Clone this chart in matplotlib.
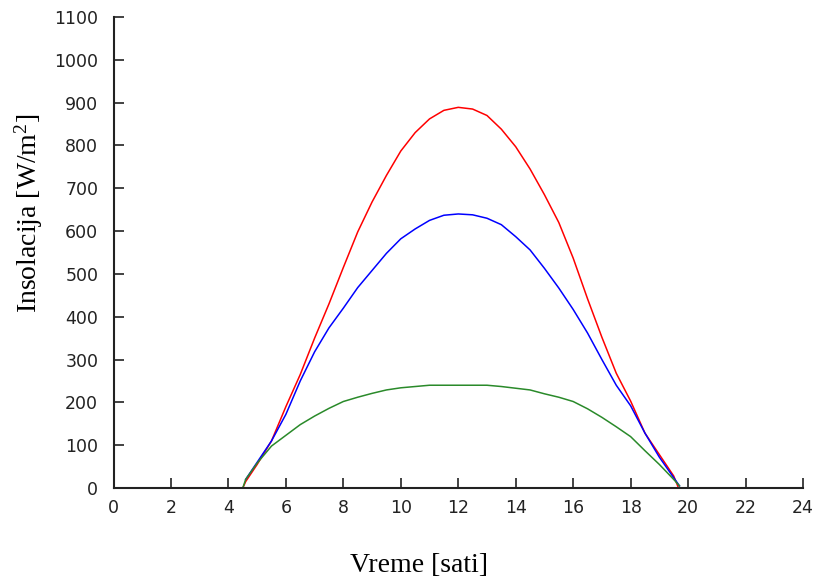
import numpy as np
import matplotlib
matplotlib.use('Agg')
import matplotlib.pyplot as plt

plt.rcParams['mathtext.fontset'] = 'custom'
plt.rcParams['mathtext.rm'] = 'Liberation Serif'
plt.rcParams['mathtext.it'] = 'Liberation Serif:italic'

# Hours of the day
hours_red = [4.5, 4.6, 5.0, 5.5, 6.0, 6.5, 7.0, 7.5, 8.0, 8.5, 9.0, 9.5, 10.0, 10.5,
             11.0, 11.5, 12.0, 12.5, 13.0, 13.5, 14.0, 14.5, 15.0, 15.5, 16.0, 16.5,
             17.0, 17.5, 18.0, 18.5, 19.0, 19.5, 19.65]
insol_red = [0, 15, 55, 110, 190, 265, 350, 430, 515, 598, 668, 730, 787, 830,
             862, 882, 889, 885, 870, 838, 797, 745, 685, 620, 537, 442,
             352, 268, 203, 128, 78, 28, 3]

hours_blue = [4.6, 5.0, 5.5, 6.0, 6.5, 7.0, 7.5, 8.0, 8.5, 9.0, 9.5, 10.0, 10.5,
              11.0, 11.5, 12.0, 12.5, 13.0, 13.5, 14.0, 14.5, 15.0, 15.5, 16.0,
              16.5, 17.0, 17.5, 18.0, 18.5, 19.0, 19.5, 19.7]
insol_blue = [20, 60, 110, 172, 250, 318, 374, 420, 468, 508, 548, 582, 605,
              625, 637, 640, 638, 630, 615, 587, 556, 513, 467, 417,
              362, 300, 240, 192, 128, 72, 24, 5]

hours_green = [4.5, 4.6, 5.0, 5.5, 6.0, 6.5, 7.0, 7.5, 8.0, 8.5, 9.0, 9.5, 10.0,
               10.5, 11.0, 12.0, 13.0, 13.5, 14.0, 14.5, 15.0, 15.5, 16.0, 16.5,
               17.0, 17.5, 18.0, 18.5, 19.0, 19.5, 19.7]
insol_green = [0, 20, 58, 98, 123, 148, 168, 186, 202, 212, 221, 229, 234,
               237, 240, 240, 240, 237, 233, 229, 220, 212, 202, 185,
               165, 143, 120, 87, 55, 20, 5]

xticks = list(range(0, 25, 2))
yticks = list(range(0, 1101, 100))

fig = plt.figure(figsize=(8.19, 5.83), dpi=100)
ax = fig.add_axes([113.5 / 819, 1 - 488 / 583, (803 - 113.5) / 819, (488 - 17) / 583])

ax.plot(hours_red, insol_red, color='#ff0000', linewidth=1.1)
ax.plot(hours_blue, insol_blue, color='#0000ff', linewidth=1.1)
ax.plot(hours_green, insol_green, color='#2a8a2a', linewidth=1.1)

ax.set_xlim(0, 24)
ax.set_ylim(0, 1100)
ax.set_xticks(xticks)
ax.set_yticks(yticks)
ax.tick_params(direction='in', length=7, width=1.2, labelsize=12.5, pad=8,
               color='#222222', labelcolor='#222222')
ax.tick_params(axis='y', pad=11)
for lab in ax.get_xticklabels() + ax.get_yticklabels():
    lab.set_family('DejaVu Sans')

ax.spines['top'].set_visible(False)
ax.spines['right'].set_visible(False)
for side in ['left', 'bottom']:
    ax.spines[side].set_linewidth(1.5)
    ax.spines[side].set_color('#222222')

# Axis labels placed where they sit in the reference
fig.text(419.5 / 819, 1 - 566 / 583, 'Vreme [sati]', ha='center', va='center',
         family='Liberation Serif', fontsize=20)
fig.text(29 / 819, 1 - 213 / 583, r'Insolacija [W/m$^\mathrm{2}$]', ha='center', va='center',
         rotation=90, family='Liberation Serif', fontsize=20)

fig.savefig('out.png', dpi=100)
